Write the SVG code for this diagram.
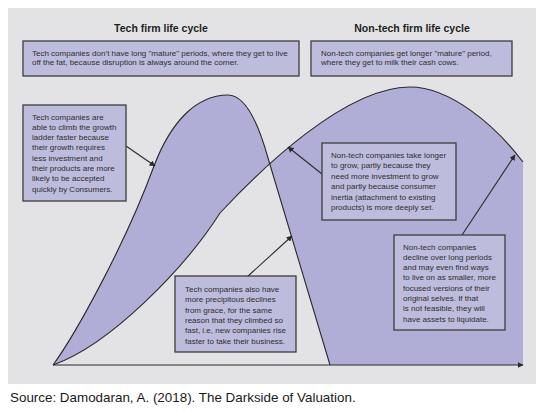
<svg xmlns="http://www.w3.org/2000/svg" width="547" height="412" viewBox="0 0 547 412">
<style>
.box{fill:#bdbcdd;stroke:#3d3d3d;stroke-width:1.3}
.t{font-family:"Liberation Sans",Arial,sans-serif;font-size:8px;fill:#2e2e2e}
.title{font-family:"Liberation Sans",Arial,sans-serif;font-size:10.5px;font-weight:bold;fill:#1e1e1e;text-anchor:middle}
.src{font-family:"Liberation Sans",Arial,sans-serif;font-size:13.4px;fill:#1a1a1a}
.curve{fill:none;stroke:#2a2a2a;stroke-width:1.1}
.conn{fill:none;stroke:#2a2a2a;stroke-width:1.1;marker-end:url(#ah)}
</style>
<defs>
<marker id="ah" viewBox="0 0 10 10" refX="9" refY="5" markerWidth="6" markerHeight="6" markerUnits="userSpaceOnUse" orient="auto">
<path d="M0,0 L10,5 L0,10 Z" fill="#2a2a2a"/>
</marker>
</defs>
<rect x="8" y="8" width="528" height="376" fill="#e3e3e5"/>
<g id="shapes">
<path fill="#b0aed6" fill-rule="evenodd" d="M53,365 C75,335 125,245 154,166 C170,124 195,95 228,95 C245,95 258,122 268,158 L330,365 Z M53,365 C110,345 185,268 220,213 C260,170 345,87 410,87 C450,87 495,125 523,162 L523,365 Z"/>
<path class="curve" d="M53,365 C75,335 125,245 154,166 C170,124 195,95 228,95 C245,95 258,122 268,158 L330,365"/>
<path class="curve" d="M53,365 C110,345 185,268 220,213 C260,170 345,87 410,87 C450,87 495,125 523,162"/>
<line x1="53" y1="365" x2="523" y2="365" stroke="#2a2a2a" stroke-width="1.1" marker-end="url(#ah)"/>
</g>
<text class="title" x="161" y="32">Tech firm life cycle</text>
<text class="title" x="412" y="32">Non-tech firm life cycle</text>
<g id="connectors">
<line class="conn" x1="126" y1="146" x2="155" y2="166"/>
<line class="conn" x1="322" y1="174" x2="288" y2="147"/>
<line class="conn" x1="247" y1="277" x2="292" y2="236"/>
<line class="conn" x1="462" y1="235" x2="515" y2="155"/>
</g>
<g id="top-left">
<rect class="box" x="23" y="41" width="276" height="35"/>
<text class="t" x="32" y="56">Tech companies don’t have long "mature" periods, where they get to live</text>
<text class="t" x="32" y="65">off the fat, because disruption is always around the corner.</text>
</g>
<g id="top-right">
<rect class="box" x="311" y="41" width="201" height="35"/>
<text class="t" x="321" y="56">Non-tech companies get longer "mature" period,</text>
<text class="t" x="321" y="65">where they get to milk their cash cows.</text>
</g>
<g id="tech-growth">
<rect class="box" x="23" y="105" width="103" height="96"/>
<text class="t" x="32" y="119.5">Tech companies are</text>
<text class="t" x="32" y="129.8">able to climb the growth</text>
<text class="t" x="32" y="140.1">ladder faster because</text>
<text class="t" x="32" y="150.4">their growth requires</text>
<text class="t" x="32" y="160.7">less investment and</text>
<text class="t" x="32" y="171">their products are more</text>
<text class="t" x="32" y="181.3">likely to be accepted</text>
<text class="t" x="32" y="191.6">quickly by Consumers.</text>
</g>
<g id="nontech-growth">
<rect class="box" x="322" y="143" width="134" height="77"/>
<text class="t" x="331" y="158">Non-tech companies take longer</text>
<text class="t" x="331" y="168.4">to grow, partly because they</text>
<text class="t" x="331" y="178.8">need more investment to grow</text>
<text class="t" x="331" y="189.2">and partly because consumer</text>
<text class="t" x="331" y="199.6">inertia (attachment to existing</text>
<text class="t" x="331" y="210">products) is more deeply set.</text>
</g>
<g id="tech-decline">
<rect class="box" x="175" y="276" width="121" height="76"/>
<text class="t" x="185" y="292">Tech companies also have</text>
<text class="t" x="185" y="302.3">more precipitous declines</text>
<text class="t" x="185" y="312.6">from grace, for the same</text>
<text class="t" x="185" y="322.9">reason that they climbed so</text>
<text class="t" x="185" y="333.2">fast, i.e, new companies rise</text>
<text class="t" x="185" y="343.5">faster to take their business.</text>
</g>
<g id="nontech-decline">
<rect class="box" x="394" y="235" width="111" height="95"/>
<text class="t" x="403" y="249.5">Non-tech companies</text>
<text class="t" x="403" y="259.8">decline over long periods</text>
<text class="t" x="403" y="270.1">and may even find ways</text>
<text class="t" x="403" y="280.4">to live on as smaller, more</text>
<text class="t" x="403" y="290.7">focused versions of their</text>
<text class="t" x="403" y="301">original selves. If that</text>
<text class="t" x="403" y="311.3">is not feasible, they will</text>
<text class="t" x="403" y="321.6">have assets to liquidate.</text>
</g>
<text class="src" x="10" y="402">Source: Damodaran, A. (2018). The Darkside of Valuation.</text>
</svg>
